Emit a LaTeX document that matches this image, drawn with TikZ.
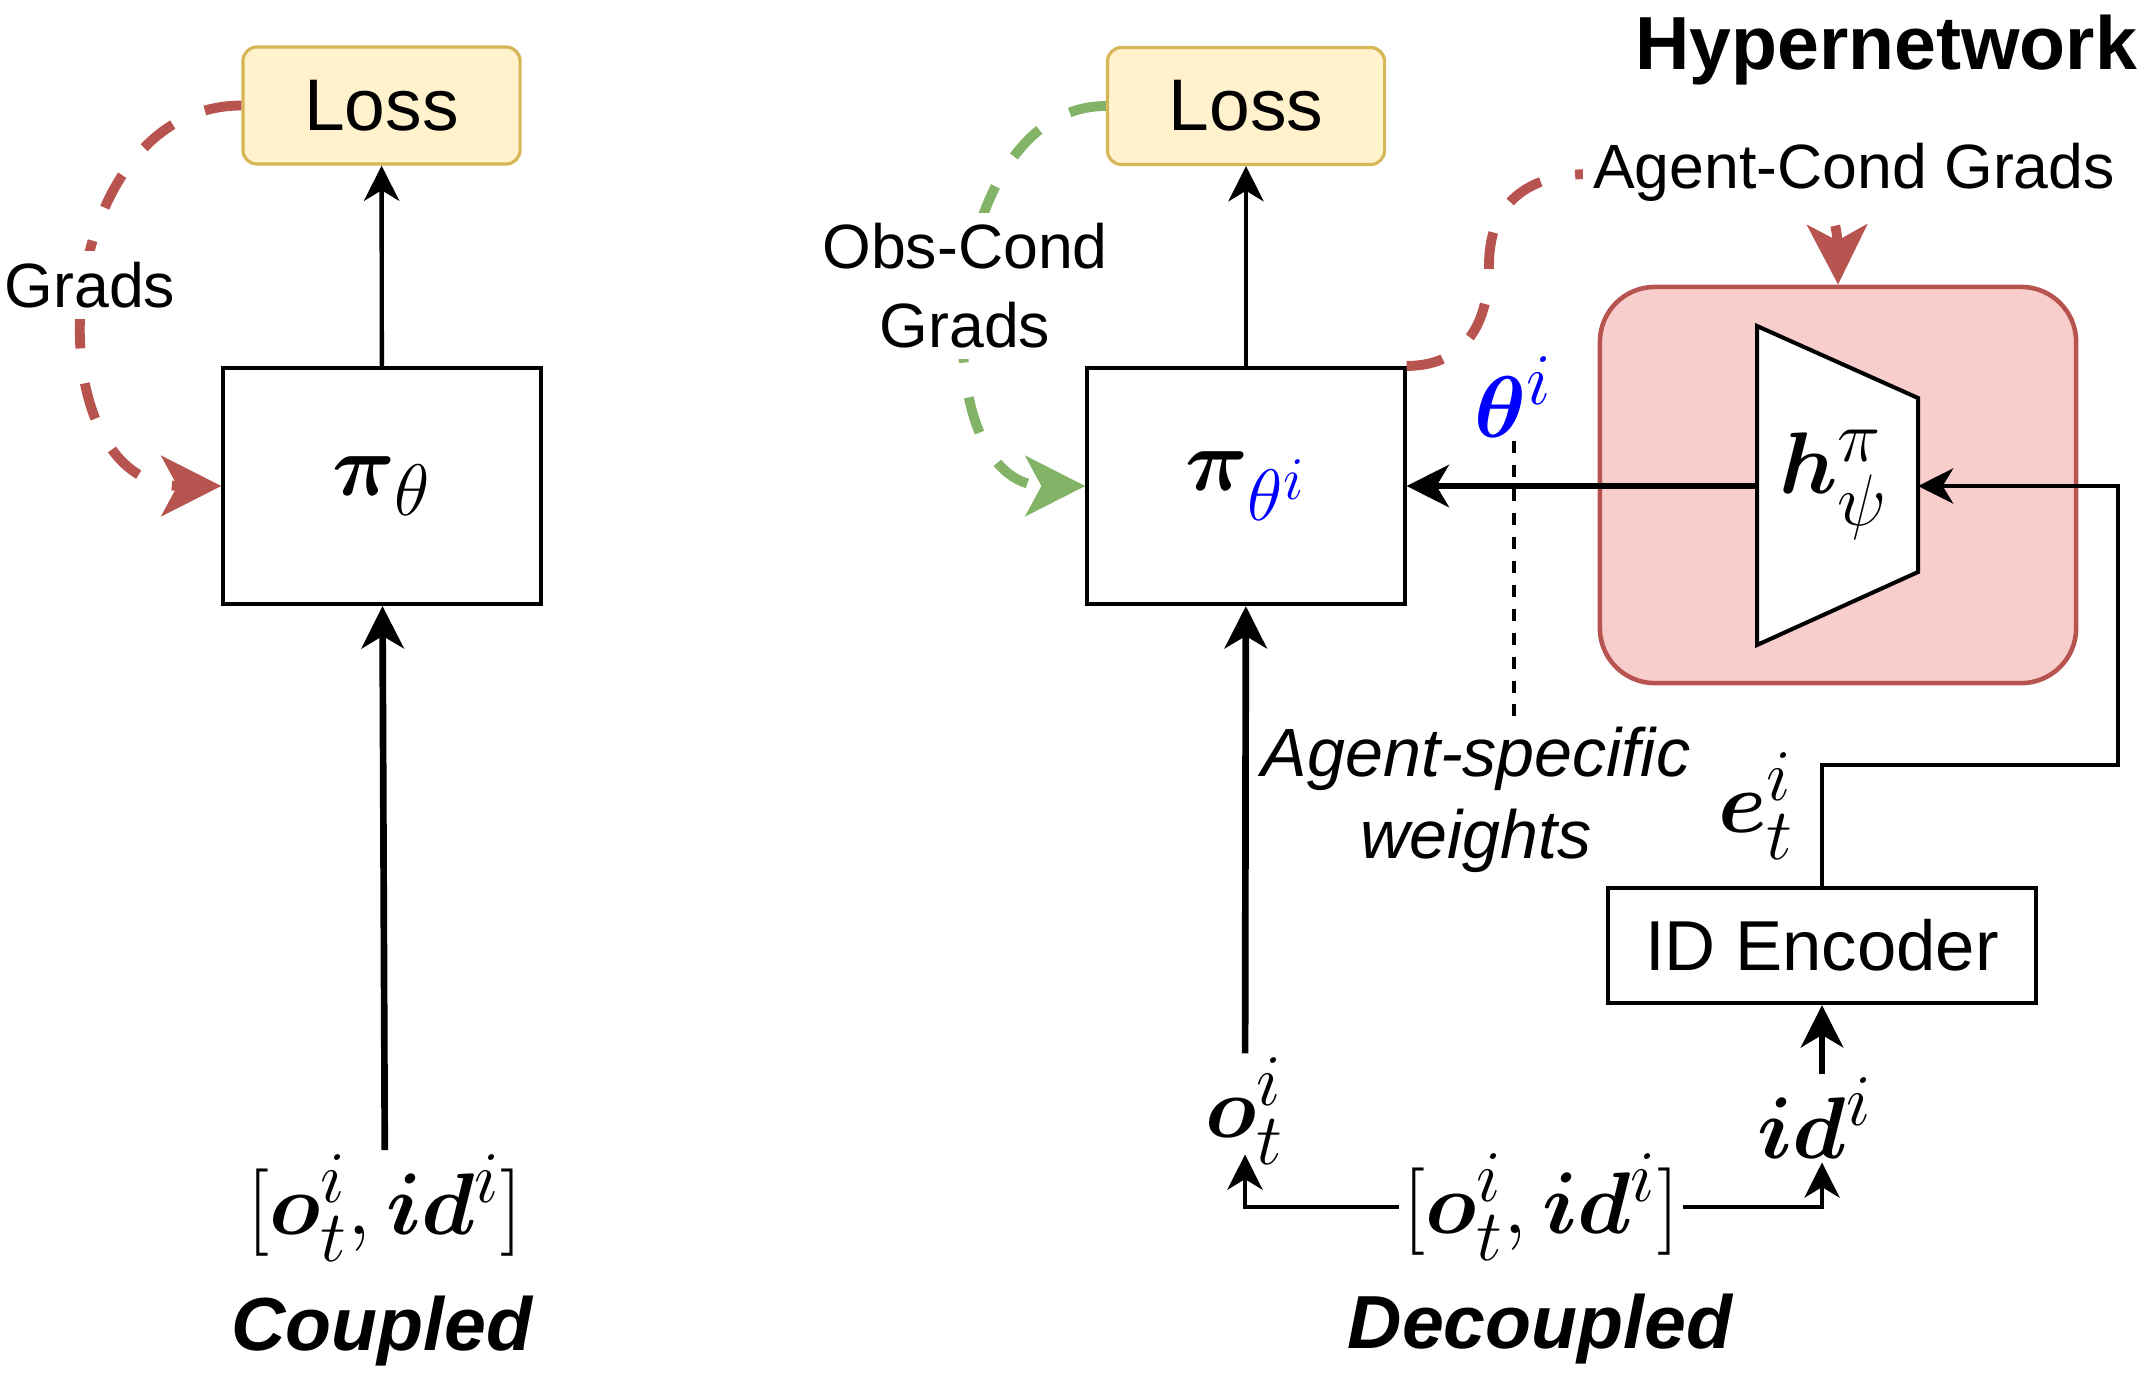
\documentclass[tikz,border=0pt]{standalone}
\usepackage{amsmath}
\usepackage{fontspec}
\setmainfont{Liberation Sans}
\usepackage{tikz}
\usetikzlibrary{arrows.meta,positioning,calc}
\usepackage{xcolor}
\definecolor{lossfill}{HTML}{FFF2CC}
\definecolor{lossedge}{HTML}{D6B656}
\definecolor{hyperfill}{HTML}{F8CECC}
\definecolor{hyperedge}{HTML}{B85450}
\definecolor{gradred}{HTML}{B85450}
\definecolor{gradgreen}{HTML}{82B366}
\definecolor{weightblue}{HTML}{0000FF}

\tikzset{
  lossbox/.style={draw=lossedge, fill=lossfill, line width=0.9pt, rounded corners=0.14cm,
    minimum width=2.77cm, minimum height=1.17cm, font=\fontsize{20.8}{25}\selectfont},
  policybox/.style={draw, line width=1.15pt, minimum width=3.17cm, minimum height=2.36cm,
    font=\fontsize{24.88}{30}\selectfont},
  mathlbl/.style={inner sep=1pt, font=\fontsize{24.88}{30}\selectfont},
  gradlbl/.style={fill=white, inner sep=3pt, align=center, font=\fontsize{17.8}{22.5}\selectfont},
  thin arrow/.style={line width=1.25pt, -{Stealth[length=10pt,width=10pt,inset=3pt]}},
  thick arrow/.style={line width=1.9pt, -{Stealth[length=12pt,width=12pt,inset=3.5pt]}},
  grad arrow/.style={line width=2.8pt, dash pattern=on 10.5pt off 10pt,
    -{Stealth[length=17pt,width=17pt,inset=4.5pt]}},
  titlelbl/.style={anchor=base, font=\fontsize{21.4}{25}\selectfont\bfseries\itshape},
}

\begin{document}
\begin{tikzpicture}[x=0.01cm, y=-0.01cm]
    \useasboundingbox (0,0) rectangle (2152,1372);
    % Coupled policy
    \node[lossbox] (loss1) at (381.5,105.5) {Loss};
    \node[policybox] (pi1) at (382,486) {$\boldsymbol{\pi}_\theta$};
    \node[mathlbl] (coupin) at (385,1208) {$[\boldsymbol{o}_t^i, \boldsymbol{id}^i]$};
    \node[titlelbl] (coupled) at (382,1350) {Coupled};
    \draw[thin arrow] (pi1) -- (loss1);
    \draw[thick arrow] (coupin) -- (pi1);
    \draw[grad arrow, gradred] (loss1.west) .. controls (49,106) and (28,486) .. (pi1.west);
    \node[gradlbl] (grads1) at (90,285) {Grads};

    % Decoupled policy
    \node[lossbox] (loss2) at (1246,106) {Loss};
    \node[policybox] (pi2) at (1246,486) {$\boldsymbol{\pi}_{\textcolor{weightblue}{\theta^i}}$};
    \draw[thin arrow] (pi2) -- (loss2);
    \draw[grad arrow, gradgreen] (loss2.west) .. controls (938,106) and (918,486) .. (pi2.west);
    \node[gradlbl] (obsgrads) at (965,286) {Obs-Cond\\Grads};

    % Hypernetwork
    \node[anchor=base, font=\fontsize{21.4}{25}\selectfont\bfseries] (hyptitle) at (1886,69) {Hypernetwork};
    \node[draw=hyperedge, fill=hyperfill, line width=1.3pt, rounded corners=0.55cm,
          minimum width=4.76cm, minimum height=3.96cm] (hyper) at (1838,485) {};
    \draw[line width=1.15pt, fill=white] (1757,326) -- (1918,398) -- (1918,572) -- (1757,645) -- cycle;
    \coordinate (hypL) at (1757,486);
    \coordinate (hypR) at (1918,486);
    \node[mathlbl] (hpsi) at (1834,485) {$\boldsymbol{h}_\psi^\pi$};
    \draw[thick arrow] (hypL) -- (pi2.east);
    \draw[grad arrow, gradred] (pi2.north east) .. controls (1460,366) and (1489,330) .. (1489,265)
        .. controls (1489,210) and (1520,174) .. (1590,174) -- (1790,174)
        .. controls (1820,176) and (1837,215) .. (hyper.north);
    \node[gradlbl] (agentgrads) at (1854,172) {Agent-Cond Grads};

    % agent-specific weights
    \node[mathlbl, text=weightblue] (theta) at (1514,397) {$\boldsymbol{\theta}^i$};
    \node[inner sep=2pt, align=center, font=\fontsize{19.4}{23.3}\selectfont\itshape] (agentw) at (1476,800) {Agent-specific\\weights};
    \draw[line width=1.2pt, dash pattern=on 3.4pt off 3.4pt] (theta.south) -- (theta.south |- agentw.north);

    % ID encoder branch
    \node[draw, line width=1.15pt, minimum width=4.28cm, minimum height=1.15cm,
          font=\fontsize{20.1}{24}\selectfont] (idenc) at (1822,945.5) {ID Encoder};
    \node[mathlbl] (eti) at (1756,806) {$\boldsymbol{e}_t^i$};
    \coordinate (ebend) at (2118,765);
    \draw[thin arrow] (idenc.north) |- (ebend) |- (hypR);

    % inputs
    \node[mathlbl] (oti) at (1245,1111) {$\boldsymbol{o}_t^i$};
    \node[mathlbl] (idi) at (1815,1118) {$\boldsymbol{id}^i$};
    \node[mathlbl] (decin) at (1541,1207) {$[\boldsymbol{o}_t^i, \boldsymbol{id}^i]$};
    \draw[thick arrow] (oti) -- (pi2);
    \draw[thick arrow] (idi.north -| idenc.south) -- (idenc.south);
    \draw[thin arrow] (decin.west) -| ([yshift=4pt]oti.south);
    \draw[thin arrow] (decin.east) -| (idi.south -| idenc.south);
    \node[titlelbl] (decoupled) at (1540,1348) {Decoupled};
\end{tikzpicture}
\end{document}
